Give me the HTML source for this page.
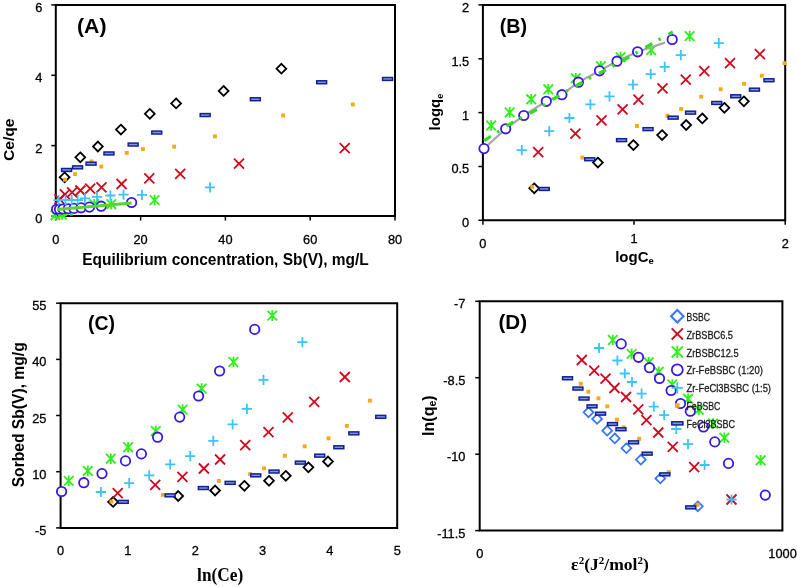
<!DOCTYPE html><html><head><meta charset="utf-8"><style>html,body{margin:0;padding:0;background:#fff;width:797px;height:587px;overflow:hidden}svg{display:block;will-change:transform}</style></head><body>
<svg width="797" height="587" viewBox="0 0 797 587">
<rect width="797" height="587" fill="#fff"/>
<path d="M55.8 4.9H395V216H55.8Z" fill="none" stroke="#000" stroke-width="2"/>
<path d="M51.3 216.0H55.8" stroke="#000" stroke-width="1.5"/>
<path d="M51.3 145.6H55.8" stroke="#000" stroke-width="1.5"/>
<path d="M51.3 75.3H55.8" stroke="#000" stroke-width="1.5"/>
<path d="M51.3 4.9H55.8" stroke="#000" stroke-width="1.5"/>
<path d="M55.8 216V220.5" stroke="#000" stroke-width="1.5"/>
<path d="M140.6 216V220.5" stroke="#000" stroke-width="1.5"/>
<path d="M225.4 216V220.5" stroke="#000" stroke-width="1.5"/>
<path d="M310.2 216V220.5" stroke="#000" stroke-width="1.5"/>
<path d="M395.0 216V220.5" stroke="#000" stroke-width="1.5"/>
<text x="42.4" y="223.0" font-size="12.8" text-anchor="end" font-weight="normal" font-family='"Liberation Sans", sans-serif' fill="#000" stroke="#000" stroke-width="0.3">0</text>
<text x="42.4" y="152.63333333333333" font-size="12.8" text-anchor="end" font-weight="normal" font-family='"Liberation Sans", sans-serif' fill="#000" stroke="#000" stroke-width="0.3">2</text>
<text x="42.4" y="82.26666666666668" font-size="12.8" text-anchor="end" font-weight="normal" font-family='"Liberation Sans", sans-serif' fill="#000" stroke="#000" stroke-width="0.3">4</text>
<text x="42.4" y="11.900000000000006" font-size="12.8" text-anchor="end" font-weight="normal" font-family='"Liberation Sans", sans-serif' fill="#000" stroke="#000" stroke-width="0.3">6</text>
<text x="55.8" y="243.7" font-size="12.8" text-anchor="middle" font-weight="normal" font-family='"Liberation Sans", sans-serif' fill="#000" stroke="#000" stroke-width="0.3">0</text>
<text x="140.6" y="243.7" font-size="12.8" text-anchor="middle" font-weight="normal" font-family='"Liberation Sans", sans-serif' fill="#000" stroke="#000" stroke-width="0.3">20</text>
<text x="225.39999999999998" y="243.7" font-size="12.8" text-anchor="middle" font-weight="normal" font-family='"Liberation Sans", sans-serif' fill="#000" stroke="#000" stroke-width="0.3">40</text>
<text x="310.2" y="243.7" font-size="12.8" text-anchor="middle" font-weight="normal" font-family='"Liberation Sans", sans-serif' fill="#000" stroke="#000" stroke-width="0.3">60</text>
<text x="395.0" y="243.7" font-size="12.8" text-anchor="middle" font-weight="normal" font-family='"Liberation Sans", sans-serif' fill="#000" stroke="#000" stroke-width="0.3">80</text>
<text x="77" y="32.6" font-size="20" text-anchor="start" font-weight="bold" font-family='"Liberation Sans", sans-serif' fill="#000" textLength="29.5" lengthAdjust="spacingAndGlyphs">(A)</text>
<text x="13.8" y="161" font-size="15.5" text-anchor="start" font-weight="bold" font-family='"Liberation Sans", sans-serif' fill="#000" textLength="42.5" lengthAdjust="spacingAndGlyphs" transform="rotate(-90 13.8 161)">Ce/qe</text>
<text x="82.2" y="264.5" font-size="16" text-anchor="start" font-weight="bold" font-family='"Liberation Sans", sans-serif' fill="#000" textLength="286.6" lengthAdjust="spacingAndGlyphs">Equilibrium concentration, Sb(V), mg/L</text>
<path d="M482.9 4.9H785.2V220.3H482.9Z" fill="none" stroke="#000" stroke-width="2"/>
<path d="M478.4 220.3H482.9" stroke="#000" stroke-width="1.5"/>
<path d="M478.4 166.5H482.9" stroke="#000" stroke-width="1.5"/>
<path d="M478.4 112.6H482.9" stroke="#000" stroke-width="1.5"/>
<path d="M478.4 58.8H482.9" stroke="#000" stroke-width="1.5"/>
<path d="M478.4 4.9H482.9" stroke="#000" stroke-width="1.5"/>
<path d="M482.9 220.3V224.8" stroke="#000" stroke-width="1.5"/>
<path d="M634.0 220.3V224.8" stroke="#000" stroke-width="1.5"/>
<path d="M785.2 220.3V224.8" stroke="#000" stroke-width="1.5"/>
<text x="469.2" y="227.3" font-size="12.8" text-anchor="end" font-weight="normal" font-family='"Liberation Sans", sans-serif' fill="#000" stroke="#000" stroke-width="0.3">0</text>
<text x="469.2" y="173.45000000000002" font-size="12.8" text-anchor="end" font-weight="normal" font-family='"Liberation Sans", sans-serif' fill="#000" stroke="#000" stroke-width="0.3">0.5</text>
<text x="469.2" y="119.60000000000001" font-size="12.8" text-anchor="end" font-weight="normal" font-family='"Liberation Sans", sans-serif' fill="#000" stroke="#000" stroke-width="0.3">1</text>
<text x="469.2" y="65.75" font-size="12.8" text-anchor="end" font-weight="normal" font-family='"Liberation Sans", sans-serif' fill="#000" stroke="#000" stroke-width="0.3">1.5</text>
<text x="469.2" y="11.900000000000006" font-size="12.8" text-anchor="end" font-weight="normal" font-family='"Liberation Sans", sans-serif' fill="#000" stroke="#000" stroke-width="0.3">2</text>
<text x="482.9" y="247.7" font-size="12.8" text-anchor="middle" font-weight="normal" font-family='"Liberation Sans", sans-serif' fill="#000" stroke="#000" stroke-width="0.3">0</text>
<text x="634.05" y="243.2" font-size="12.8" text-anchor="middle" font-weight="normal" font-family='"Liberation Sans", sans-serif' fill="#000" stroke="#000" stroke-width="0.3">1</text>
<text x="785.2" y="247.7" font-size="12.8" text-anchor="middle" font-weight="normal" font-family='"Liberation Sans", sans-serif' fill="#000" stroke="#000" stroke-width="0.3">2</text>
<text x="499.7" y="32.6" font-size="20" text-anchor="start" font-weight="bold" font-family='"Liberation Sans", sans-serif' fill="#000" textLength="27.3" lengthAdjust="spacingAndGlyphs">(B)</text>
<text x="440" y="130.4" font-size="15" text-anchor="start" font-weight="bold" font-family='"Liberation Sans", sans-serif' fill="#000" transform="rotate(-90 440 130.4)">logq<tspan font-size="9" dy="3">e</tspan></text>
<text x="615.2" y="261.5" font-size="15" text-anchor="start" font-weight="bold" font-family='"Liberation Sans", sans-serif' fill="#000">logC<tspan font-size="9.5" dy="2.5">e</tspan></text>
<path d="M60.6 303.2H397.2V527.9H60.6Z" fill="none" stroke="#000" stroke-width="2"/>
<path d="M56.1 527.9H60.6" stroke="#000" stroke-width="1.5"/>
<path d="M56.1 471.7H60.6" stroke="#000" stroke-width="1.5"/>
<path d="M56.1 415.5H60.6" stroke="#000" stroke-width="1.5"/>
<path d="M56.1 359.4H60.6" stroke="#000" stroke-width="1.5"/>
<path d="M56.1 303.2H60.6" stroke="#000" stroke-width="1.5"/>
<text x="46.4" y="534.9" font-size="12.8" text-anchor="end" font-weight="normal" font-family='"Liberation Sans", sans-serif' fill="#000" stroke="#000" stroke-width="0.3">-5</text>
<text x="46.4" y="478.72499999999997" font-size="12.8" text-anchor="end" font-weight="normal" font-family='"Liberation Sans", sans-serif' fill="#000" stroke="#000" stroke-width="0.3">10</text>
<text x="46.4" y="422.54999999999995" font-size="12.8" text-anchor="end" font-weight="normal" font-family='"Liberation Sans", sans-serif' fill="#000" stroke="#000" stroke-width="0.3">25</text>
<text x="46.4" y="366.375" font-size="12.8" text-anchor="end" font-weight="normal" font-family='"Liberation Sans", sans-serif' fill="#000" stroke="#000" stroke-width="0.3">40</text>
<text x="46.4" y="310.2" font-size="12.8" text-anchor="end" font-weight="normal" font-family='"Liberation Sans", sans-serif' fill="#000" stroke="#000" stroke-width="0.3">55</text>
<text x="60.6" y="554.7" font-size="12.8" text-anchor="middle" font-weight="normal" font-family='"Liberation Sans", sans-serif' fill="#000" stroke="#000" stroke-width="0.3">0</text>
<text x="127.91999999999999" y="554.7" font-size="12.8" text-anchor="middle" font-weight="normal" font-family='"Liberation Sans", sans-serif' fill="#000" stroke="#000" stroke-width="0.3">1</text>
<text x="195.23999999999998" y="554.7" font-size="12.8" text-anchor="middle" font-weight="normal" font-family='"Liberation Sans", sans-serif' fill="#000" stroke="#000" stroke-width="0.3">2</text>
<text x="262.56" y="554.7" font-size="12.8" text-anchor="middle" font-weight="normal" font-family='"Liberation Sans", sans-serif' fill="#000" stroke="#000" stroke-width="0.3">3</text>
<text x="329.88" y="554.7" font-size="12.8" text-anchor="middle" font-weight="normal" font-family='"Liberation Sans", sans-serif' fill="#000" stroke="#000" stroke-width="0.3">4</text>
<text x="397.2" y="554.7" font-size="12.8" text-anchor="middle" font-weight="normal" font-family='"Liberation Sans", sans-serif' fill="#000" stroke="#000" stroke-width="0.3">5</text>
<text x="88.1" y="330.4" font-size="20" text-anchor="start" font-weight="bold" font-family='"Liberation Sans", sans-serif' fill="#000" textLength="27" lengthAdjust="spacingAndGlyphs">(C)</text>
<text x="23.9" y="487.3" font-size="16.3" text-anchor="start" font-weight="bold" font-family='"Liberation Sans", sans-serif' fill="#000" textLength="145" lengthAdjust="spacingAndGlyphs" transform="rotate(-90 23.9 487.3)">Sorbed Sb(V), mg/g</text>
<text x="197.1" y="581.2" font-size="19" text-anchor="start" font-weight="bold" font-family='"Liberation Serif", serif' fill="#000" textLength="46.2" lengthAdjust="spacingAndGlyphs">ln(Ce)</text>
<path d="M479.7 301.3H782.4V530.6H479.7Z" fill="none" stroke="#000" stroke-width="2"/>
<path d="M475.2 301.3H479.7" stroke="#000" stroke-width="1.5"/>
<path d="M475.2 377.7H479.7" stroke="#000" stroke-width="1.5"/>
<path d="M475.2 454.2H479.7" stroke="#000" stroke-width="1.5"/>
<path d="M475.2 530.6H479.7" stroke="#000" stroke-width="1.5"/>
<text x="465.4" y="308.3" font-size="12.8" text-anchor="end" font-weight="normal" font-family='"Liberation Sans", sans-serif' fill="#000" stroke="#000" stroke-width="0.3">-7</text>
<text x="465.4" y="384.73333333333335" font-size="12.8" text-anchor="end" font-weight="normal" font-family='"Liberation Sans", sans-serif' fill="#000" stroke="#000" stroke-width="0.3">-8.5</text>
<text x="465.4" y="461.1666666666667" font-size="12.8" text-anchor="end" font-weight="normal" font-family='"Liberation Sans", sans-serif' fill="#000" stroke="#000" stroke-width="0.3">-10</text>
<text x="465.4" y="537.6" font-size="12.8" text-anchor="end" font-weight="normal" font-family='"Liberation Sans", sans-serif' fill="#000" stroke="#000" stroke-width="0.3">-11.5</text>
<text x="479.7" y="557.5" font-size="12.8" text-anchor="middle" font-weight="normal" font-family='"Liberation Sans", sans-serif' fill="#000" stroke="#000" stroke-width="0.3">0</text>
<text x="782.6" y="557.5" font-size="12.8" text-anchor="middle" font-weight="normal" font-family='"Liberation Sans", sans-serif' fill="#000" stroke="#000" stroke-width="0.3">1000</text>
<text x="498.4" y="328.5" font-size="20" text-anchor="start" font-weight="bold" font-family='"Liberation Sans", sans-serif' fill="#000" textLength="28.6" lengthAdjust="spacingAndGlyphs">(D)</text>
<text x="433.6" y="435.9" font-size="16" text-anchor="start" font-weight="bold" font-family='"Liberation Sans", sans-serif' fill="#000" transform="rotate(-90 433.6 435.9)">ln(q<tspan font-size="10.5" dy="2">e</tspan><tspan dy="-2">)</tspan></text>
<text x="571.1" y="569.5" font-size="17.6" text-anchor="start" font-weight="bold" font-family='"Liberation Serif", serif' fill="#000">ε<tspan font-size="11" dy="-6">2</tspan><tspan dy="6">(J</tspan><tspan font-size="11" dy="-6">2</tspan><tspan dy="6">/mol</tspan><tspan font-size="11" dy="-6">2</tspan><tspan dy="6">)</tspan></text>
<path d="M64.6 172.4L69.5 177.3L64.6 182.2L59.7 177.3Z" fill="#fff" stroke="#000000" stroke-width="1.8"/>
<path d="M80.3 152.4L85.2 157.3L80.3 162.2L75.4 157.3Z" fill="#fff" stroke="#000000" stroke-width="1.8"/>
<path d="M97.9 141.6L102.8 146.5L97.9 151.4L93.0 146.5Z" fill="#fff" stroke="#000000" stroke-width="1.8"/>
<path d="M120.9 124.7L125.8 129.6L120.9 134.5L116.0 129.6Z" fill="#fff" stroke="#000000" stroke-width="1.8"/>
<path d="M149.8 108.9L154.7 113.8L149.8 118.7L144.9 113.8Z" fill="#fff" stroke="#000000" stroke-width="1.8"/>
<path d="M176.1 98.5L181.0 103.4L176.1 108.3L171.2 103.4Z" fill="#fff" stroke="#000000" stroke-width="1.8"/>
<path d="M223.6 86.0L228.5 90.9L223.6 95.8L218.7 90.9Z" fill="#fff" stroke="#000000" stroke-width="1.8"/>
<path d="M281.4 63.8L286.3 68.7L281.4 73.6L276.5 68.7Z" fill="#fff" stroke="#000000" stroke-width="1.8"/>
<path d="M54.5 194.2L64.5 204.2M64.5 194.2L54.5 204.2" stroke="#d0081c" stroke-width="1.8"/>
<path d="M59.9 189.3L69.9 199.3M69.9 189.3L59.9 199.3" stroke="#d0081c" stroke-width="1.8"/>
<path d="M67.1 187.4L77.1 197.4M77.1 187.4L67.1 197.4" stroke="#d0081c" stroke-width="1.8"/>
<path d="M75.4 185.5L85.4 195.5M85.4 185.5L75.4 195.5" stroke="#d0081c" stroke-width="1.8"/>
<path d="M85.2 183.7L95.2 193.7M95.2 183.7L85.2 193.7" stroke="#d0081c" stroke-width="1.8"/>
<path d="M96.5 182.4L106.5 192.4M106.5 182.4L96.5 192.4" stroke="#d0081c" stroke-width="1.8"/>
<path d="M116.6 179.0L126.6 189.0M126.6 179.0L116.6 189.0" stroke="#d0081c" stroke-width="1.8"/>
<path d="M144.3 173.3L154.3 183.3M154.3 173.3L144.3 183.3" stroke="#d0081c" stroke-width="1.8"/>
<path d="M175.2 168.8L185.2 178.8M185.2 168.8L175.2 178.8" stroke="#d0081c" stroke-width="1.8"/>
<path d="M234.0 158.6L244.0 168.6M244.0 158.6L234.0 168.6" stroke="#d0081c" stroke-width="1.8"/>
<path d="M339.7 143.2L349.7 153.2M349.7 143.2L339.7 153.2" stroke="#d0081c" stroke-width="1.8"/>
<path d="M50.7 210.4L60.3 220.0M60.3 210.4L50.7 220.0M55.5 209.9L55.5 220.5" stroke="#2ef01a" stroke-width="1.8"/>
<path d="M57.2 209.7L66.8 219.3M66.8 209.7L57.2 219.3M62.0 209.2L62.0 219.8" stroke="#2ef01a" stroke-width="1.8"/>
<path d="M89.4 199.4L99.0 209.0M99.0 199.4L89.4 209.0M94.2 198.9L94.2 209.5" stroke="#2ef01a" stroke-width="1.8"/>
<path d="M106.5 199.4L116.1 209.0M116.1 199.4L106.5 209.0M111.3 198.9L111.3 209.5" stroke="#2ef01a" stroke-width="1.8"/>
<path d="M149.8 195.3L159.4 204.9M159.4 195.3L149.8 204.9M154.6 194.8L154.6 205.4" stroke="#2ef01a" stroke-width="1.8"/>
<circle cx="56.6" cy="209.3" r="4.7" fill="#fff" stroke="#3a16e8" stroke-width="1.8"/>
<circle cx="59.5" cy="209.2" r="4.7" fill="#fff" stroke="#3a16e8" stroke-width="1.8"/>
<circle cx="63.0" cy="209.0" r="4.7" fill="#fff" stroke="#3a16e8" stroke-width="1.8"/>
<circle cx="68.3" cy="208.8" r="4.7" fill="#fff" stroke="#3a16e8" stroke-width="1.8"/>
<circle cx="74.0" cy="208.4" r="4.7" fill="#fff" stroke="#3a16e8" stroke-width="1.8"/>
<circle cx="81.1" cy="207.8" r="4.7" fill="#fff" stroke="#3a16e8" stroke-width="1.8"/>
<circle cx="89.4" cy="207.1" r="4.7" fill="#fff" stroke="#3a16e8" stroke-width="1.8"/>
<circle cx="101.2" cy="206.2" r="4.7" fill="#fff" stroke="#3a16e8" stroke-width="1.8"/>
<circle cx="131.6" cy="202.5" r="4.7" fill="#fff" stroke="#3a16e8" stroke-width="1.8"/>
<path d="M53.4 200.2L63.6 200.2M58.5 195.1L58.5 205.3" stroke="#3cc4f8" stroke-width="1.8"/>
<path d="M60.4 200.2L70.6 200.2M65.5 195.1L65.5 205.3" stroke="#3cc4f8" stroke-width="1.8"/>
<path d="M66.6 200.0L76.8 200.0M71.7 194.9L71.7 205.1" stroke="#3cc4f8" stroke-width="1.8"/>
<path d="M72.6 200.0L82.8 200.0M77.7 194.9L77.7 205.1" stroke="#3cc4f8" stroke-width="1.8"/>
<path d="M79.8 198.3L90.0 198.3M84.9 193.2L84.9 203.4" stroke="#3cc4f8" stroke-width="1.8"/>
<path d="M91.9 196.9L102.1 196.9M97.0 191.8L97.0 202.0" stroke="#3cc4f8" stroke-width="1.8"/>
<path d="M105.3 195.5L115.5 195.5M110.4 190.4L110.4 200.6" stroke="#3cc4f8" stroke-width="1.8"/>
<path d="M118.4 194.6L128.6 194.6M123.5 189.5L123.5 199.7" stroke="#3cc4f8" stroke-width="1.8"/>
<path d="M136.8 194.9L147.0 194.9M141.9 189.8L141.9 200.0" stroke="#3cc4f8" stroke-width="1.8"/>
<path d="M204.9 187.3L215.1 187.3M210.0 182.2L210.0 192.4" stroke="#3cc4f8" stroke-width="1.8"/>
<rect x="63.0" y="177.7" width="3.9" height="3.9" fill="#f5aa1a"/>
<rect x="73.1" y="172.2" width="3.9" height="3.9" fill="#f5aa1a"/>
<rect x="89.6" y="159.5" width="3.9" height="3.9" fill="#f5aa1a"/>
<rect x="99.3" y="164.6" width="3.9" height="3.9" fill="#f5aa1a"/>
<rect x="124.8" y="151.0" width="3.9" height="3.9" fill="#f5aa1a"/>
<rect x="141.0" y="147.2" width="3.9" height="3.9" fill="#f5aa1a"/>
<rect x="172.2" y="144.7" width="3.9" height="3.9" fill="#f5aa1a"/>
<rect x="213.0" y="134.4" width="3.9" height="3.9" fill="#f5aa1a"/>
<rect x="281.2" y="113.5" width="3.9" height="3.9" fill="#f5aa1a"/>
<rect x="350.9" y="102.5" width="3.9" height="3.9" fill="#f5aa1a"/>
<rect x="61.6" y="168.5" width="9.9" height="2.9" fill="#8a96d4" stroke="#0f2196" stroke-width="1.5"/>
<rect x="72.6" y="165.9" width="9.9" height="2.9" fill="#8a96d4" stroke="#0f2196" stroke-width="1.5"/>
<rect x="86.1" y="162.2" width="9.9" height="2.9" fill="#8a96d4" stroke="#0f2196" stroke-width="1.5"/>
<rect x="104.0" y="152.0" width="9.9" height="2.9" fill="#8a96d4" stroke="#0f2196" stroke-width="1.5"/>
<rect x="128.2" y="143.1" width="9.9" height="2.9" fill="#8a96d4" stroke="#0f2196" stroke-width="1.5"/>
<rect x="151.8" y="131.1" width="9.9" height="2.9" fill="#8a96d4" stroke="#0f2196" stroke-width="1.5"/>
<rect x="200.2" y="113.6" width="9.9" height="2.9" fill="#8a96d4" stroke="#0f2196" stroke-width="1.5"/>
<rect x="250.4" y="97.8" width="9.9" height="2.9" fill="#8a96d4" stroke="#0f2196" stroke-width="1.5"/>
<rect x="316.7" y="80.8" width="9.9" height="2.9" fill="#8a96d4" stroke="#0f2196" stroke-width="1.5"/>
<rect x="382.6" y="77.5" width="9.9" height="2.9" fill="#8a96d4" stroke="#0f2196" stroke-width="1.5"/>
<path d="M57 209.5L131.6 203" stroke="#5ad52a" stroke-width="3" fill="none"/>
<path d="M52 216.2L74 214.2" stroke="#2ef01a" stroke-width="2.2" stroke-dasharray="3 3" fill="none"/>
<path d="M534.2 183.4L539.1 188.3L534.2 193.2L529.3 188.3Z" fill="#fff" stroke="#000000" stroke-width="1.8"/>
<path d="M597.9 157.7L602.8 162.6L597.9 167.5L593.0 162.6Z" fill="#fff" stroke="#000000" stroke-width="1.8"/>
<path d="M633.4 140.2L638.3 145.1L633.4 150.0L628.5 145.1Z" fill="#fff" stroke="#000000" stroke-width="1.8"/>
<path d="M662.1 130.2L667.0 135.1L662.1 140.0L657.2 135.1Z" fill="#fff" stroke="#000000" stroke-width="1.8"/>
<path d="M686.2 120.1L691.1 125.0L686.2 129.9L681.3 125.0Z" fill="#fff" stroke="#000000" stroke-width="1.8"/>
<path d="M702.3 113.5L707.2 118.4L702.3 123.3L697.4 118.4Z" fill="#fff" stroke="#000000" stroke-width="1.8"/>
<path d="M724.4 102.9L729.3 107.8L724.4 112.7L719.5 107.8Z" fill="#fff" stroke="#000000" stroke-width="1.8"/>
<path d="M743.9 96.4L748.8 101.3L743.9 106.2L739.0 101.3Z" fill="#fff" stroke="#000000" stroke-width="1.8"/>
<path d="M533.2 147.2L543.2 157.2M543.2 147.2L533.2 157.2" stroke="#d0081c" stroke-width="1.8"/>
<path d="M570.4 128.7L580.4 138.7M580.4 128.7L570.4 138.7" stroke="#d0081c" stroke-width="1.8"/>
<path d="M596.5 115.4L606.5 125.4M606.5 115.4L596.5 125.4" stroke="#d0081c" stroke-width="1.8"/>
<path d="M617.6 104.4L627.6 114.4M627.6 104.4L617.6 114.4" stroke="#d0081c" stroke-width="1.8"/>
<path d="M633.4 94.7L643.4 104.7M643.4 94.7L633.4 104.7" stroke="#d0081c" stroke-width="1.8"/>
<path d="M657.5 83.3L667.5 93.3M667.5 83.3L657.5 93.3" stroke="#d0081c" stroke-width="1.8"/>
<path d="M680.8 74.6L690.8 84.6M690.8 74.6L680.8 84.6" stroke="#d0081c" stroke-width="1.8"/>
<path d="M699.3 66.2L709.3 76.2M709.3 66.2L699.3 76.2" stroke="#d0081c" stroke-width="1.8"/>
<path d="M725.0 58.2L735.0 68.2M735.0 58.2L725.0 68.2" stroke="#d0081c" stroke-width="1.8"/>
<path d="M754.9 49.1L764.9 59.1M764.9 49.1L754.9 59.1" stroke="#d0081c" stroke-width="1.8"/>
<path d="M486.3 120.7L495.9 130.3M495.9 120.7L486.3 130.3M491.1 120.2L491.1 130.8" stroke="#2ef01a" stroke-width="1.8"/>
<path d="M504.9 107.6L514.5 117.2M514.5 107.6L504.9 117.2M509.7 107.1L509.7 117.7" stroke="#2ef01a" stroke-width="1.8"/>
<path d="M526.4 94.5L536.0 104.1M536.0 94.5L526.4 104.1M531.2 94.0L531.2 104.6" stroke="#2ef01a" stroke-width="1.8"/>
<path d="M543.5 84.5L553.1 94.1M553.1 84.5L543.5 94.1M548.3 84.0L548.3 94.6" stroke="#2ef01a" stroke-width="1.8"/>
<path d="M571.0 73.4L580.6 83.0M580.6 73.4L571.0 83.0M575.8 72.9L575.8 83.5" stroke="#2ef01a" stroke-width="1.8"/>
<path d="M596.1 61.4L605.7 71.0M605.7 61.4L596.1 71.0M600.9 60.9L600.9 71.5" stroke="#2ef01a" stroke-width="1.8"/>
<path d="M615.8 52.3L625.4 61.9M625.4 52.3L615.8 61.9M620.6 51.8L620.6 62.4" stroke="#2ef01a" stroke-width="1.8"/>
<path d="M646.3 45.3L655.9 54.9M655.9 45.3L646.3 54.9M651.1 44.8L651.1 55.4" stroke="#2ef01a" stroke-width="1.8"/>
<path d="M684.8 31.3L694.4 40.9M694.4 31.3L684.8 40.9M689.6 30.8L689.6 41.4" stroke="#2ef01a" stroke-width="1.8"/>
<path d="M484 148.6 L505.7 128.8 L523.8 115.5 L546.3 101.3 L561.9 94.7 L578.4 82.2 L599.5 70.8 L617 61.2 L637.6 51.8 L665 42.6" stroke="#a8a8a8" stroke-width="2.2" fill="none"/>
<circle cx="484.0" cy="148.6" r="4.7" fill="#fff" stroke="#3a16e8" stroke-width="1.8"/>
<circle cx="505.7" cy="128.8" r="4.7" fill="#fff" stroke="#3a16e8" stroke-width="1.8"/>
<circle cx="523.8" cy="115.5" r="4.7" fill="#fff" stroke="#3a16e8" stroke-width="1.8"/>
<circle cx="546.3" cy="101.3" r="4.7" fill="#fff" stroke="#3a16e8" stroke-width="1.8"/>
<circle cx="561.9" cy="94.7" r="4.7" fill="#fff" stroke="#3a16e8" stroke-width="1.8"/>
<circle cx="578.4" cy="82.2" r="4.7" fill="#fff" stroke="#3a16e8" stroke-width="1.8"/>
<circle cx="599.5" cy="70.8" r="4.7" fill="#fff" stroke="#3a16e8" stroke-width="1.8"/>
<circle cx="617.0" cy="61.2" r="4.7" fill="#fff" stroke="#3a16e8" stroke-width="1.8"/>
<circle cx="637.6" cy="51.8" r="4.7" fill="#fff" stroke="#3a16e8" stroke-width="1.8"/>
<circle cx="672.2" cy="39.5" r="4.7" fill="#fff" stroke="#3a16e8" stroke-width="1.8"/>
<path d="M516.7 150.2L526.9 150.2M521.8 145.1L521.8 155.3" stroke="#3cc4f8" stroke-width="1.8"/>
<path d="M544.2 131.1L554.4 131.1M549.3 126.0L549.3 136.2" stroke="#3cc4f8" stroke-width="1.8"/>
<path d="M564.3 118.0L574.5 118.0M569.4 112.9L569.4 123.1" stroke="#3cc4f8" stroke-width="1.8"/>
<path d="M585.3 104.3L595.5 104.3M590.4 99.2L590.4 109.4" stroke="#3cc4f8" stroke-width="1.8"/>
<path d="M604.4 96.3L614.6 96.3M609.5 91.2L609.5 101.4" stroke="#3cc4f8" stroke-width="1.8"/>
<path d="M627.9 84.7L638.1 84.7M633.0 79.6L633.0 89.8" stroke="#3cc4f8" stroke-width="1.8"/>
<path d="M645.6 74.2L655.8 74.2M650.7 69.1L650.7 79.3" stroke="#3cc4f8" stroke-width="1.8"/>
<path d="M659.6 66.8L669.8 66.8M664.7 61.7L664.7 71.9" stroke="#3cc4f8" stroke-width="1.8"/>
<path d="M675.7 55.1L685.9 55.1M680.8 50.0L680.8 60.2" stroke="#3cc4f8" stroke-width="1.8"/>
<path d="M713.7 43.1L723.9 43.1M718.8 38.0L718.8 48.2" stroke="#3cc4f8" stroke-width="1.8"/>
<rect x="530.2" y="184.8" width="3.9" height="3.9" fill="#f5aa1a"/>
<rect x="580.4" y="155.7" width="3.9" height="3.9" fill="#f5aa1a"/>
<rect x="635.0" y="124.0" width="3.9" height="3.9" fill="#f5aa1a"/>
<rect x="665.5" y="113.8" width="3.9" height="3.9" fill="#f5aa1a"/>
<rect x="679.2" y="107.0" width="3.9" height="3.9" fill="#f5aa1a"/>
<rect x="699.3" y="94.8" width="3.9" height="3.9" fill="#f5aa1a"/>
<rect x="718.8" y="87.3" width="3.9" height="3.9" fill="#f5aa1a"/>
<rect x="742.1" y="81.8" width="3.9" height="3.9" fill="#f5aa1a"/>
<rect x="759.9" y="73.8" width="3.9" height="3.9" fill="#f5aa1a"/>
<rect x="782.6" y="61.2" width="3.9" height="3.9" fill="#f5aa1a"/>
<rect x="539.3" y="187.5" width="9.9" height="2.9" fill="#8a96d4" stroke="#0f2196" stroke-width="1.5"/>
<rect x="584.8" y="157.8" width="9.9" height="2.9" fill="#8a96d4" stroke="#0f2196" stroke-width="1.5"/>
<rect x="616.6" y="138.7" width="9.9" height="2.9" fill="#8a96d4" stroke="#0f2196" stroke-width="1.5"/>
<rect x="643.1" y="127.7" width="9.9" height="2.9" fill="#8a96d4" stroke="#0f2196" stroke-width="1.5"/>
<rect x="668.2" y="116.2" width="9.9" height="2.9" fill="#8a96d4" stroke="#0f2196" stroke-width="1.5"/>
<rect x="685.6" y="111.2" width="9.9" height="2.9" fill="#8a96d4" stroke="#0f2196" stroke-width="1.5"/>
<rect x="711.8" y="101.5" width="9.9" height="2.9" fill="#8a96d4" stroke="#0f2196" stroke-width="1.5"/>
<rect x="730.8" y="94.8" width="9.9" height="2.9" fill="#8a96d4" stroke="#0f2196" stroke-width="1.5"/>
<rect x="749.5" y="88.2" width="9.9" height="2.9" fill="#8a96d4" stroke="#0f2196" stroke-width="1.5"/>
<rect x="764.0" y="78.8" width="9.9" height="2.9" fill="#8a96d4" stroke="#0f2196" stroke-width="1.5"/>
<path d="M483.3 141.1L513.9 121.6L537.7 109L561.6 94L590.4 77.7L606.3 69.6L630.2 56.4L652.7 43.2L672.8 31.9" stroke="#33dd22" stroke-width="3.2" stroke-dasharray="8 7.3 2.5 8.8" stroke-dashoffset="-1" fill="none"/>
<path d="M113.1 497.0L118.0 501.9L113.1 506.8L108.2 501.9Z" fill="#fff" stroke="#000000" stroke-width="1.8"/>
<path d="M178.2 491.1L183.1 496.0L178.2 500.9L173.3 496.0Z" fill="#fff" stroke="#000000" stroke-width="1.8"/>
<path d="M215.1 485.6L220.0 490.5L215.1 495.4L210.2 490.5Z" fill="#fff" stroke="#000000" stroke-width="1.8"/>
<path d="M244.4 480.9L249.3 485.8L244.4 490.7L239.5 485.8Z" fill="#fff" stroke="#000000" stroke-width="1.8"/>
<path d="M269.0 475.9L273.9 480.8L269.0 485.7L264.1 480.8Z" fill="#fff" stroke="#000000" stroke-width="1.8"/>
<path d="M285.8 470.9L290.7 475.8L285.8 480.7L280.9 475.8Z" fill="#fff" stroke="#000000" stroke-width="1.8"/>
<path d="M308.4 462.4L313.3 467.3L308.4 472.2L303.5 467.3Z" fill="#fff" stroke="#000000" stroke-width="1.8"/>
<path d="M328.0 456.6L332.9 461.5L328.0 466.4L323.1 461.5Z" fill="#fff" stroke="#000000" stroke-width="1.8"/>
<path d="M112.7 488.1L122.7 498.1M122.7 488.1L112.7 498.1" stroke="#d0081c" stroke-width="1.8"/>
<path d="M150.2 479.9L160.2 489.9M160.2 479.9L150.2 489.9" stroke="#d0081c" stroke-width="1.8"/>
<path d="M177.4 471.9L187.4 481.9M187.4 471.9L177.4 481.9" stroke="#d0081c" stroke-width="1.8"/>
<path d="M198.9 463.5L208.9 473.5M208.9 463.5L198.9 473.5" stroke="#d0081c" stroke-width="1.8"/>
<path d="M215.1 454.5L225.1 464.5M225.1 454.5L215.1 464.5" stroke="#d0081c" stroke-width="1.8"/>
<path d="M240.2 440.2L250.2 450.2M250.2 440.2L240.2 450.2" stroke="#d0081c" stroke-width="1.8"/>
<path d="M263.5 427.1L273.5 437.1M273.5 427.1L263.5 437.1" stroke="#d0081c" stroke-width="1.8"/>
<path d="M282.8 412.4L292.8 422.4M292.8 412.4L282.8 422.4" stroke="#d0081c" stroke-width="1.8"/>
<path d="M309.2 396.8L319.2 406.8M319.2 396.8L309.2 406.8" stroke="#d0081c" stroke-width="1.8"/>
<path d="M339.8 372.0L349.8 382.0M349.8 372.0L339.8 382.0" stroke="#d0081c" stroke-width="1.8"/>
<path d="M63.9 476.1L73.5 485.7M73.5 476.1L63.9 485.7M68.7 475.6L68.7 486.2" stroke="#2ef01a" stroke-width="1.8"/>
<path d="M83.0 466.1L92.6 475.7M92.6 466.1L83.0 475.7M87.8 465.6L87.8 476.2" stroke="#2ef01a" stroke-width="1.8"/>
<path d="M106.0 453.9L115.6 463.5M115.6 453.9L106.0 463.5M110.8 453.4L110.8 464.0" stroke="#2ef01a" stroke-width="1.8"/>
<path d="M123.3 442.4L132.9 452.0M132.9 442.4L123.3 452.0M128.1 441.9L128.1 452.5" stroke="#2ef01a" stroke-width="1.8"/>
<path d="M151.0 426.2L160.6 435.8M160.6 426.2L151.0 435.8M155.8 425.7L155.8 436.3" stroke="#2ef01a" stroke-width="1.8"/>
<path d="M177.8 404.8L187.4 414.4M187.4 404.8L177.8 414.4M182.6 404.3L182.6 414.9" stroke="#2ef01a" stroke-width="1.8"/>
<path d="M196.8 383.8L206.4 393.4M206.4 383.8L196.8 393.4M201.6 383.3L201.6 393.9" stroke="#2ef01a" stroke-width="1.8"/>
<path d="M228.6 357.2L238.2 366.8M238.2 357.2L228.6 366.8M233.4 356.7L233.4 367.3" stroke="#2ef01a" stroke-width="1.8"/>
<path d="M267.5 310.8L277.1 320.4M277.1 310.8L267.5 320.4M272.3 310.3L272.3 320.9" stroke="#2ef01a" stroke-width="1.8"/>
<circle cx="61.6" cy="491.5" r="4.7" fill="#fff" stroke="#3a16e8" stroke-width="1.8"/>
<circle cx="83.8" cy="482.7" r="4.7" fill="#fff" stroke="#3a16e8" stroke-width="1.8"/>
<circle cx="102.0" cy="473.6" r="4.7" fill="#fff" stroke="#3a16e8" stroke-width="1.8"/>
<circle cx="125.5" cy="460.9" r="4.7" fill="#fff" stroke="#3a16e8" stroke-width="1.8"/>
<circle cx="141.4" cy="453.9" r="4.7" fill="#fff" stroke="#3a16e8" stroke-width="1.8"/>
<circle cx="157.6" cy="437.2" r="4.7" fill="#fff" stroke="#3a16e8" stroke-width="1.8"/>
<circle cx="179.7" cy="417.1" r="4.7" fill="#fff" stroke="#3a16e8" stroke-width="1.8"/>
<circle cx="198.6" cy="396.0" r="4.7" fill="#fff" stroke="#3a16e8" stroke-width="1.8"/>
<circle cx="219.6" cy="371.0" r="4.7" fill="#fff" stroke="#3a16e8" stroke-width="1.8"/>
<circle cx="254.7" cy="329.4" r="4.7" fill="#fff" stroke="#3a16e8" stroke-width="1.8"/>
<path d="M95.8 492.0L106.0 492.0M100.9 486.9L100.9 497.1" stroke="#3cc4f8" stroke-width="1.8"/>
<path d="M124.1 483.1L134.3 483.1M129.2 478.0L129.2 488.2" stroke="#3cc4f8" stroke-width="1.8"/>
<path d="M144.1 475.3L154.3 475.3M149.2 470.2L149.2 480.4" stroke="#3cc4f8" stroke-width="1.8"/>
<path d="M165.1 464.3L175.3 464.3M170.2 459.2L170.2 469.4" stroke="#3cc4f8" stroke-width="1.8"/>
<path d="M185.1 456.1L195.3 456.1M190.2 451.0L190.2 461.2" stroke="#3cc4f8" stroke-width="1.8"/>
<path d="M208.2 440.9L218.4 440.9M213.3 435.8L213.3 446.0" stroke="#3cc4f8" stroke-width="1.8"/>
<path d="M227.5 424.3L237.7 424.3M232.6 419.2L232.6 429.4" stroke="#3cc4f8" stroke-width="1.8"/>
<path d="M241.8 408.8L252.0 408.8M246.9 403.7L246.9 413.9" stroke="#3cc4f8" stroke-width="1.8"/>
<path d="M258.4 379.8L268.6 379.8M263.5 374.7L263.5 384.9" stroke="#3cc4f8" stroke-width="1.8"/>
<path d="M297.3 342.2L307.5 342.2M302.4 337.1L302.4 347.3" stroke="#3cc4f8" stroke-width="1.8"/>
<rect x="109.5" y="499.6" width="3.9" height="3.9" fill="#f5aa1a"/>
<rect x="161.0" y="492.9" width="3.9" height="3.9" fill="#f5aa1a"/>
<rect x="216.9" y="478.9" width="3.9" height="3.9" fill="#f5aa1a"/>
<rect x="248.2" y="472.1" width="3.9" height="3.9" fill="#f5aa1a"/>
<rect x="262.1" y="466.4" width="3.9" height="3.9" fill="#f5aa1a"/>
<rect x="282.9" y="453.8" width="3.9" height="3.9" fill="#f5aa1a"/>
<rect x="302.7" y="444.4" width="3.9" height="3.9" fill="#f5aa1a"/>
<rect x="326.6" y="436.4" width="3.9" height="3.9" fill="#f5aa1a"/>
<rect x="344.9" y="423.9" width="3.9" height="3.9" fill="#f5aa1a"/>
<rect x="367.9" y="398.7" width="3.9" height="3.9" fill="#f5aa1a"/>
<rect x="118.3" y="500.4" width="9.9" height="2.9" fill="#8a96d4" stroke="#0f2196" stroke-width="1.5"/>
<rect x="165.2" y="493.9" width="9.9" height="2.9" fill="#8a96d4" stroke="#0f2196" stroke-width="1.5"/>
<rect x="198.4" y="486.6" width="9.9" height="2.9" fill="#8a96d4" stroke="#0f2196" stroke-width="1.5"/>
<rect x="225.2" y="481.4" width="9.9" height="2.9" fill="#8a96d4" stroke="#0f2196" stroke-width="1.5"/>
<rect x="250.8" y="473.9" width="9.9" height="2.9" fill="#8a96d4" stroke="#0f2196" stroke-width="1.5"/>
<rect x="269.1" y="470.1" width="9.9" height="2.9" fill="#8a96d4" stroke="#0f2196" stroke-width="1.5"/>
<rect x="295.4" y="461.2" width="9.9" height="2.9" fill="#8a96d4" stroke="#0f2196" stroke-width="1.5"/>
<rect x="314.8" y="454.2" width="9.9" height="2.9" fill="#8a96d4" stroke="#0f2196" stroke-width="1.5"/>
<rect x="333.9" y="445.8" width="9.9" height="2.9" fill="#8a96d4" stroke="#0f2196" stroke-width="1.5"/>
<rect x="348.9" y="431.9" width="9.9" height="2.9" fill="#8a96d4" stroke="#0f2196" stroke-width="1.5"/>
<rect x="375.8" y="415.4" width="9.9" height="2.9" fill="#8a96d4" stroke="#0f2196" stroke-width="1.5"/>
<path d="M588.5 407.4L593.4 412.3L588.5 417.2L583.6 412.3Z" fill="#fff" stroke="#3a78f2" stroke-width="1.8"/>
<path d="M597.1 414.0L602.0 418.9L597.1 423.8L592.2 418.9Z" fill="#fff" stroke="#3a78f2" stroke-width="1.8"/>
<path d="M607.2 425.8L612.1 430.7L607.2 435.6L602.3 430.7Z" fill="#fff" stroke="#3a78f2" stroke-width="1.8"/>
<path d="M614.8 433.5L619.7 438.4L614.8 443.3L609.9 438.4Z" fill="#fff" stroke="#3a78f2" stroke-width="1.8"/>
<path d="M626.4 443.3L631.3 448.2L626.4 453.1L621.5 448.2Z" fill="#fff" stroke="#3a78f2" stroke-width="1.8"/>
<path d="M640.9 454.8L645.8 459.7L640.9 464.6L636.0 459.7Z" fill="#fff" stroke="#3a78f2" stroke-width="1.8"/>
<path d="M660.3 473.5L665.2 478.4L660.3 483.3L655.4 478.4Z" fill="#fff" stroke="#3a78f2" stroke-width="1.8"/>
<path d="M697.8 501.4L702.7 506.3L697.8 511.2L692.9 506.3Z" fill="#fff" stroke="#3a78f2" stroke-width="1.8"/>
<path d="M576.8 355.0L586.8 365.0M586.8 355.0L576.8 365.0" stroke="#d0081c" stroke-width="1.8"/>
<path d="M589.2 365.7L599.2 375.7M599.2 365.7L589.2 375.7" stroke="#d0081c" stroke-width="1.8"/>
<path d="M600.5 373.6L610.5 383.6M610.5 373.6L600.5 383.6" stroke="#d0081c" stroke-width="1.8"/>
<path d="M609.5 383.0L619.5 393.0M619.5 383.0L609.5 393.0" stroke="#d0081c" stroke-width="1.8"/>
<path d="M621.0 392.0L631.0 402.0M631.0 392.0L621.0 402.0" stroke="#d0081c" stroke-width="1.8"/>
<path d="M633.3 404.3L643.3 414.3M643.3 404.3L633.3 414.3" stroke="#d0081c" stroke-width="1.8"/>
<path d="M641.4 415.1L651.4 425.1M651.4 415.1L641.4 425.1" stroke="#d0081c" stroke-width="1.8"/>
<path d="M653.3 427.5L663.3 437.5M663.3 427.5L653.3 437.5" stroke="#d0081c" stroke-width="1.8"/>
<path d="M667.8 441.8L677.8 451.8M677.8 441.8L667.8 451.8" stroke="#d0081c" stroke-width="1.8"/>
<path d="M689.2 462.1L699.2 472.1M699.2 462.1L689.2 472.1" stroke="#d0081c" stroke-width="1.8"/>
<path d="M726.5 494.5L736.5 504.5M736.5 494.5L726.5 504.5" stroke="#d0081c" stroke-width="1.8"/>
<path d="M608.0 335.2L617.6 344.8M617.6 335.2L608.0 344.8M612.8 334.7L612.8 345.3" stroke="#2ef01a" stroke-width="1.8"/>
<path d="M626.8 349.1L636.4 358.7M636.4 349.1L626.8 358.7M631.6 348.6L631.6 359.2" stroke="#2ef01a" stroke-width="1.8"/>
<path d="M643.9 357.5L653.5 367.1M653.5 357.5L643.9 367.1M648.7 357.0L648.7 367.6" stroke="#2ef01a" stroke-width="1.8"/>
<path d="M654.0 366.9L663.6 376.5M663.6 366.9L654.0 376.5M658.8 366.4L658.8 377.0" stroke="#2ef01a" stroke-width="1.8"/>
<path d="M667.5 379.7L677.1 389.3M677.1 379.7L667.5 389.3M672.3 379.2L672.3 389.8" stroke="#2ef01a" stroke-width="1.8"/>
<path d="M683.3 394.0L692.9 403.6M692.9 394.0L683.3 403.6M688.1 393.5L688.1 404.1" stroke="#2ef01a" stroke-width="1.8"/>
<path d="M694.0 405.0L703.6 414.6M703.6 405.0L694.0 414.6M698.8 404.5L698.8 415.1" stroke="#2ef01a" stroke-width="1.8"/>
<path d="M708.3 418.7L717.9 428.3M717.9 418.7L708.3 428.3M713.1 418.2L713.1 428.8" stroke="#2ef01a" stroke-width="1.8"/>
<path d="M719.6 433.0L729.2 442.6M729.2 433.0L719.6 442.6M724.4 432.5L724.4 443.1" stroke="#2ef01a" stroke-width="1.8"/>
<path d="M755.8 455.5L765.4 465.1M765.4 455.5L755.8 465.1M760.6 455.0L760.6 465.6" stroke="#2ef01a" stroke-width="1.8"/>
<circle cx="621.2" cy="343.9" r="4.7" fill="#fff" stroke="#3a16e8" stroke-width="1.8"/>
<circle cx="638.5" cy="357.3" r="4.7" fill="#fff" stroke="#3a16e8" stroke-width="1.8"/>
<circle cx="649.5" cy="367.7" r="4.7" fill="#fff" stroke="#3a16e8" stroke-width="1.8"/>
<circle cx="659.5" cy="378.5" r="4.7" fill="#fff" stroke="#3a16e8" stroke-width="1.8"/>
<circle cx="671.1" cy="390.5" r="4.7" fill="#fff" stroke="#3a16e8" stroke-width="1.8"/>
<circle cx="680.5" cy="403.5" r="4.7" fill="#fff" stroke="#3a16e8" stroke-width="1.8"/>
<circle cx="690.3" cy="411.2" r="4.7" fill="#fff" stroke="#3a16e8" stroke-width="1.8"/>
<circle cx="703.5" cy="427.0" r="4.7" fill="#fff" stroke="#3a16e8" stroke-width="1.8"/>
<circle cx="714.8" cy="441.9" r="4.7" fill="#fff" stroke="#3a16e8" stroke-width="1.8"/>
<circle cx="728.5" cy="463.4" r="4.7" fill="#fff" stroke="#3a16e8" stroke-width="1.8"/>
<circle cx="765.3" cy="495.1" r="4.7" fill="#fff" stroke="#3a16e8" stroke-width="1.8"/>
<path d="M593.9 348.0L604.1 348.0M599.0 342.9L599.0 353.1" stroke="#3cc4f8" stroke-width="1.8"/>
<path d="M612.3 360.5L622.5 360.5M617.4 355.4L617.4 365.6" stroke="#3cc4f8" stroke-width="1.8"/>
<path d="M619.7 373.5L629.9 373.5M624.8 368.4L624.8 378.6" stroke="#3cc4f8" stroke-width="1.8"/>
<path d="M626.9 382.0L637.1 382.0M632.0 376.9L632.0 387.1" stroke="#3cc4f8" stroke-width="1.8"/>
<path d="M636.5 393.7L646.7 393.7M641.6 388.6L641.6 398.8" stroke="#3cc4f8" stroke-width="1.8"/>
<path d="M648.7 406.6L658.9 406.6M653.8 401.5L653.8 411.7" stroke="#3cc4f8" stroke-width="1.8"/>
<path d="M659.1 415.2L669.3 415.2M664.2 410.1L664.2 420.3" stroke="#3cc4f8" stroke-width="1.8"/>
<path d="M671.2 429.0L681.4 429.0M676.3 423.9L676.3 434.1" stroke="#3cc4f8" stroke-width="1.8"/>
<path d="M682.9 444.1L693.1 444.1M688.0 439.0L688.0 449.2" stroke="#3cc4f8" stroke-width="1.8"/>
<path d="M699.5 465.0L709.7 465.0M704.6 459.9L704.6 470.1" stroke="#3cc4f8" stroke-width="1.8"/>
<path d="M726.4 499.5L736.6 499.5M731.5 494.4L731.5 504.6" stroke="#3cc4f8" stroke-width="1.8"/>
<rect x="578.8" y="381.8" width="3.9" height="3.9" fill="#f5aa1a"/>
<rect x="586.4" y="389.8" width="3.9" height="3.9" fill="#f5aa1a"/>
<rect x="596.5" y="396.4" width="3.9" height="3.9" fill="#f5aa1a"/>
<rect x="605.4" y="404.4" width="3.9" height="3.9" fill="#f5aa1a"/>
<rect x="615.0" y="417.7" width="3.9" height="3.9" fill="#f5aa1a"/>
<rect x="621.8" y="425.4" width="3.9" height="3.9" fill="#f5aa1a"/>
<rect x="637.2" y="436.8" width="3.9" height="3.9" fill="#f5aa1a"/>
<rect x="666.8" y="470.2" width="3.9" height="3.9" fill="#f5aa1a"/>
<rect x="695.8" y="502.8" width="3.9" height="3.9" fill="#f5aa1a"/>
<rect x="562.6" y="376.8" width="9.9" height="2.9" fill="#8a96d4" stroke="#0f2196" stroke-width="1.5"/>
<rect x="573.0" y="387.1" width="9.9" height="2.9" fill="#8a96d4" stroke="#0f2196" stroke-width="1.5"/>
<rect x="579.1" y="397.1" width="9.9" height="2.9" fill="#8a96d4" stroke="#0f2196" stroke-width="1.5"/>
<rect x="587.1" y="404.9" width="9.9" height="2.9" fill="#8a96d4" stroke="#0f2196" stroke-width="1.5"/>
<rect x="595.6" y="412.2" width="9.9" height="2.9" fill="#8a96d4" stroke="#0f2196" stroke-width="1.5"/>
<rect x="607.5" y="422.6" width="9.9" height="2.9" fill="#8a96d4" stroke="#0f2196" stroke-width="1.5"/>
<rect x="616.0" y="427.8" width="9.9" height="2.9" fill="#8a96d4" stroke="#0f2196" stroke-width="1.5"/>
<rect x="628.6" y="440.9" width="9.9" height="2.9" fill="#8a96d4" stroke="#0f2196" stroke-width="1.5"/>
<rect x="642.2" y="452.2" width="9.9" height="2.9" fill="#8a96d4" stroke="#0f2196" stroke-width="1.5"/>
<rect x="659.9" y="472.9" width="9.9" height="2.9" fill="#8a96d4" stroke="#0f2196" stroke-width="1.5"/>
<rect x="685.8" y="505.9" width="9.9" height="2.9" fill="#8a96d4" stroke="#0f2196" stroke-width="1.5"/>
<path d="M677.3 310.1L683.5 316.3L677.3 322.5L671.1 316.3Z" fill="#fff" stroke="#3a78f2" stroke-width="2.1"/>
<path d="M671.7 328.3L682.9 339.5M682.9 328.3L671.7 339.5" stroke="#d0081c" stroke-width="1.8"/>
<path d="M671.7 346.3L682.9 357.5M682.9 346.3L671.7 357.5M677.3 345.8L677.3 358.0" stroke="#2ef01a" stroke-width="1.8"/>
<circle cx="677.3" cy="369.8" r="5.5" fill="#fff" stroke="#3a16e8" stroke-width="1.8"/>
<path d="M671.7 387.8L682.9 387.8M677.3 382.2L677.3 393.4" stroke="#3cc4f8" stroke-width="1.8"/>
<rect x="675.0" y="403.2" width="4.6" height="4.6" fill="#f5aa1a"/>
<rect x="671.8" y="421.8" width="11.1" height="3.1" fill="#8a96d4" stroke="#0f2196" stroke-width="1.5"/>
<text x="686.5" y="321.1" font-size="10.6" text-anchor="start" font-weight="normal" font-family='"Liberation Sans", sans-serif' fill="#1a1a1a" textLength="23.4" lengthAdjust="spacingAndGlyphs" stroke="#1a1a1a" stroke-width="0.3">BSBC</text>
<text x="686.5" y="338.9" font-size="10.6" text-anchor="start" font-weight="normal" font-family='"Liberation Sans", sans-serif' fill="#1a1a1a" textLength="46.4" lengthAdjust="spacingAndGlyphs" stroke="#1a1a1a" stroke-width="0.3">ZrBSBC6.5</text>
<text x="686.5" y="356.7" font-size="10.6" text-anchor="start" font-weight="normal" font-family='"Liberation Sans", sans-serif' fill="#1a1a1a" textLength="52.1" lengthAdjust="spacingAndGlyphs" stroke="#1a1a1a" stroke-width="0.3">ZrBSBC12.5</text>
<text x="686.5" y="374.4" font-size="10.6" text-anchor="start" font-weight="normal" font-family='"Liberation Sans", sans-serif' fill="#1a1a1a" textLength="76.3" lengthAdjust="spacingAndGlyphs" stroke="#1a1a1a" stroke-width="0.3">Zr-FeBSBC (1:20)</text>
<text x="686.5" y="392.1" font-size="10.6" text-anchor="start" font-weight="normal" font-family='"Liberation Sans", sans-serif' fill="#1a1a1a" textLength="84.5" lengthAdjust="spacingAndGlyphs" stroke="#1a1a1a" stroke-width="0.3">Zr-FeCl3BSBC (1:5)</text>
<text x="686.5" y="409.9" font-size="10.6" text-anchor="start" font-weight="normal" font-family='"Liberation Sans", sans-serif' fill="#1a1a1a" textLength="33.9" lengthAdjust="spacingAndGlyphs" stroke="#1a1a1a" stroke-width="0.3">FeBSBC</text>
<text x="686.5" y="427.6" font-size="10.6" text-anchor="start" font-weight="normal" font-family='"Liberation Sans", sans-serif' fill="#1a1a1a" textLength="48.5" lengthAdjust="spacingAndGlyphs" stroke="#1a1a1a" stroke-width="0.3">FeCl3BSBC</text>
</svg></body></html>
